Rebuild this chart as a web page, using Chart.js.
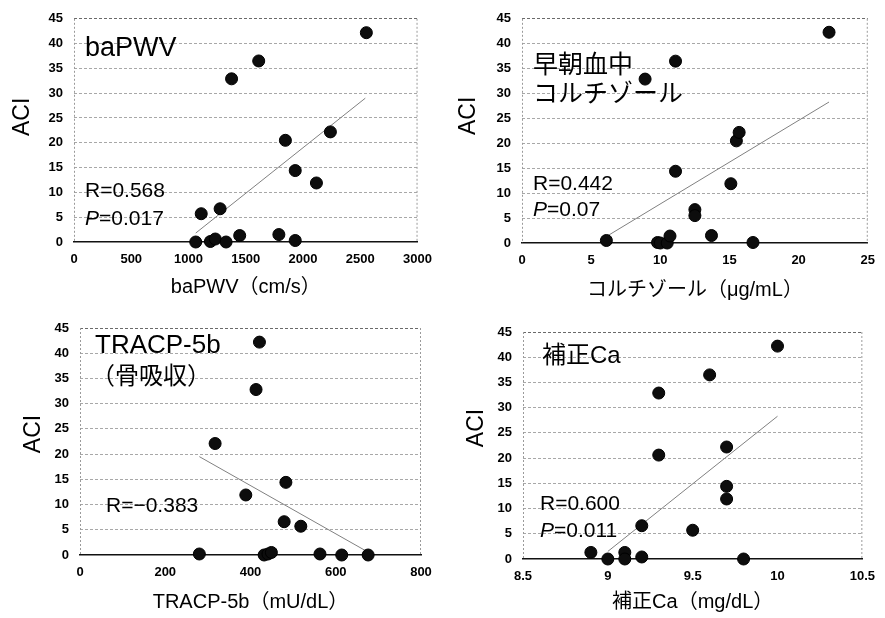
<!DOCTYPE html>
<html lang="ja">
<head>
<meta charset="utf-8">
<title>ACI 相関</title>
<script src="https://cdn.jsdelivr.net/npm/chart.js@4/dist/chart.umd.min.js"></script>
<style>
  html, body { margin: 0; padding: 0; background: #fff; }
  #wrap { position: relative; width: 885px; height: 618px; overflow: hidden; }
  canvas { position: absolute; }
</style>
</head>
<body>
<div id="wrap">
  <canvas id="cPwv" width="442" height="305" style="left:0;top:0"></canvas>
  <canvas id="cCort" width="443" height="305" style="left:442px;top:0"></canvas>
  <canvas id="cTracp" width="442" height="313" style="left:0;top:305px"></canvas>
  <canvas id="cCa" width="443" height="313" style="left:442px;top:305px"></canvas>
</div>
<script>
// === DATA ===
const aciTicks = [0, 5, 10, 15, 20, 25, 30, 35, 40, 45];

// baPWV (cm/s) vs ACI
const pwvX   = [1063, 1111, 1191, 1234, 1276, 1328, 1376, 1447, 1613, 1789, 1846, 1932, 1932, 2117, 2239, 2553];
const pwvAci = [0, 5.7, 0.1, 0.6, 6.7, 0, 32.9, 1.3, 36.5, 1.5, 20.5, 14.4, 0.3, 11.9, 22.2, 42.2];
const pwvTicks = [0, 500, 1000, 1500, 2000, 2500, 3000];
const pwvFitX = [1063, 2544];
const pwvFitY = [1.8, 29.0];

// 早朝血中コルチゾール (μg/mL) vs ACI
const cortX   = [6.1, 8.9, 9.8, 10.0, 10.5, 10.7, 11.1, 11.1, 12.5, 12.5, 13.7, 15.1, 15.5, 15.7, 16.7, 22.2];
const cortAci = [0.5, 32.9, 0.1, 0, 0, 1.4, 36.5, 14.4, 6.7, 5.5, 1.5, 11.9, 20.5, 22.2, 0.1, 42.3];
const cortTicks = [0, 5, 10, 15, 20, 25];
const cortFitX = [6.1, 22.2];
const cortFitY = [1.3, 28.3];

// TRACP-5b (mU/dL) vs ACI
const tracpX   = [280, 317, 389, 413, 421, 432, 441, 449, 479, 483, 518, 563, 614, 676];
const tracpAci = [0.2, 22.1, 11.9, 32.8, 42.2, 0, 0.2, 0.5, 6.6, 14.4, 5.7, 0.2, 0, 0];
const tracpTicks = [0, 200, 400, 600, 800];
const tracpFitX = [280, 669];
const tracpFitY = [19.5, 0.9];

// 補正Ca (mg/dL) vs ACI
const caX   = [8.9, 9.0, 9.1, 9.1, 9.2, 9.2, 9.3, 9.3, 9.5, 9.6, 9.7, 9.7, 9.7, 9.8, 10.0];
const caAci = [1.3, 0, 1.3, 0, 6.6, 0.4, 32.9, 20.6, 5.7, 36.5, 22.2, 14.4, 11.9, 0, 42.2];
const caTicks = [8.5, 9, 9.5, 10, 10.5];
const caFitX = [9.0, 10.0];
const caFitY = [1.5, 28.3];

// === FONTS ===
const LATIN = '"Liberation Sans", Arial, sans-serif';
const JP = '"Liberation Sans", "Noto Sans CJK JP", sans-serif';

function toPoints(xs, ys) {
    return xs.map((x, i) => ({ x: x, y: ys[i] }));
}

// draw one text run list (supports italic "P")
function drawRuns(ctx, runs, x, y, size) {
    let cx = x;
    runs.forEach(r => {
        ctx.font = (r.italic ? 'italic ' : '') + size + 'px ' + JP;
        ctx.fillText(r.t, cx, y);
        cx += ctx.measureText(r.t).width;
    });
}

// === PANEL BUILDER ===
function makePanel(canvasId, p) {
    const canvas = document.getElementById(canvasId);
    const W = canvas.width, H = canvas.height;
    const [L, T, R, B] = p.area;

    const panelText = {
        id: 'panelText',
        // dashed frame on the left and right of the plot
        beforeDatasetsDraw(chart) {
            const { ctx, chartArea: a } = chart;
            ctx.save();
            ctx.strokeStyle = '#9a9a9a';
            ctx.lineWidth = 1;
            ctx.setLineDash([2, 2]);
            ctx.beginPath();
            ctx.moveTo(a.left + 0.5, a.top);
            ctx.lineTo(a.left + 0.5, a.bottom);
            ctx.moveTo(a.right - 0.5, a.top);
            ctx.lineTo(a.right - 0.5, a.bottom);
            ctx.stroke();
            ctx.restore();
        },
        afterDraw(chart) {
            const { ctx, chartArea: a } = chart;
            ctx.save();
            ctx.fillStyle = '#000';
            ctx.textBaseline = 'alphabetic';
            ctx.textAlign = 'left';
            p.labels.forEach(lb => {
                drawRuns(ctx, lb.runs, a.left + lb.dx, a.top + lb.dy, lb.size);
            });
            // ACI axis title
            ctx.translate(a.left + p.yTitle[0], a.top + p.yTitle[1]);
            ctx.rotate(-Math.PI / 2);
            ctx.textAlign = 'center';
            ctx.textBaseline = 'middle';
            ctx.font = '23px ' + LATIN;
            ctx.fillText('ACI', 0, 0);
            ctx.restore();
        }
    };

    return new Chart(canvas, {
        type: 'scatter',
        data: {
            datasets: [{
                data: toPoints(p.x, p.y),
                backgroundColor: '#0d0d0d',
                borderColor: '#000',
                borderWidth: 1,
                pointRadius: 6,
                clip: false
            }, {
                type: 'line',
                data: toPoints(p.fitX, p.fitY),
                borderColor: '#808080',
                borderWidth: 1,
                pointRadius: 0,
                fill: false,
                clip: false
            }]
        },
        options: {
            responsive: false,
            animation: false,
            devicePixelRatio: 1,
            layout: { padding: { left: 0, top: T, right: W - R, bottom: 0 } },
            plugins: { legend: { display: false }, tooltip: { enabled: false } },
            scales: {
                x: {
                    type: 'linear',
                    min: p.xTicks[0],
                    max: p.xTicks[p.xTicks.length - 1],
                    afterBuildTicks: s => { s.ticks = p.xTicks.map(v => ({ value: v })); },
                    afterFit: s => { s.height = H - B; },
                    grid: { display: false, drawTicks: false },
                    border: { display: true, color: '#111', width: 1.4 },
                    ticks: {
                        padding: 10,
                        color: '#000',
                        font: { family: LATIN, size: 13, weight: 'bold' },
                        callback: v => String(v)
                    },
                    title: {
                        display: true,
                        text: p.xTitle,
                        color: '#000',
                        font: { family: JP, size: 20 },
                        padding: { top: 0, bottom: p.xTitlePad }
                    }
                },
                y: {
                    type: 'linear',
                    min: 0,
                    max: 45,
                    afterBuildTicks: s => { s.ticks = aciTicks.map(v => ({ value: v })); },
                    afterFit: s => { s.width = L; },
                    grid: {
                        drawTicks: false,
                        color: c => c.tick && c.tick.value === 0 ? 'rgba(0,0,0,0)'
                            : (c.tick && c.tick.value === 45 ? '#6a6a6a' : '#a8a8a8'),
                        lineWidth: 1
                    },
                    border: { display: false, dash: [3, 2] },
                    ticks: {
                        padding: 11,
                        color: '#000',
                        font: { family: LATIN, size: 13, weight: 'bold' }
                    }
                }
            }
        },
        plugins: [panelText]
    });
}

// === FOUR PANELS ===
makePanel('cPwv', {
    area: [74, 15, 425, 242],
    x: pwvX, y: pwvAci, fitX: pwvFitX, fitY: pwvFitY, xTicks: pwvTicks,
    xTitle: 'baPWV（cm/s）', xTitlePad: 6,
    yTitle: [-51, 98],
    labels: [
        { runs: [{ t: 'baPWV' }], dx: 11, dy: 37, size: 27 },
        { runs: [{ t: 'R=0.568' }], dx: 11, dy: 178, size: 21 },
        { runs: [{ t: 'P', italic: true }, { t: '=0.017' }], dx: 11, dy: 206, size: 21 }
    ]
});

makePanel('cCort', {
    area: [80, 16, 433, 243],
    x: cortX, y: cortAci, fitX: cortFitX, fitY: cortFitY, xTicks: cortTicks,
    xTitle: 'コルチゾール（μg/mL）', xTitlePad: 3,
    yTitle: [-53, 97],
    labels: [
        { runs: [{ t: '早朝血中' }], dx: 11, dy: 54, size: 25 },
        { runs: [{ t: 'コルチゾール' }], dx: 11, dy: 83, size: 25 },
        { runs: [{ t: 'R=0.442' }], dx: 11, dy: 171, size: 21 },
        { runs: [{ t: 'P', italic: true }, { t: '=0.07' }], dx: 11, dy: 197, size: 21 }
    ]
});

makePanel('cTracp', {
    area: [80, 23, 421, 250],
    x: tracpX, y: tracpAci, fitX: tracpFitX, fitY: tracpFitY, xTicks: tracpTicks,
    xTitle: 'TRACP-5b（mU/dL）', xTitlePad: 4,
    yTitle: [-46, 106],
    labels: [
        { runs: [{ t: 'TRACP-5b' }], dx: 15, dy: 25, size: 26 },
        { runs: [{ t: '（骨吸収）' }], dx: 11, dy: 56, size: 24 },
        { runs: [{ t: 'R=−0.383' }], dx: 26, dy: 184, size: 21 }
    ]
});

makePanel('cCa', {
    area: [81, 27, 426, 254],
    x: caX, y: caAci, fitX: caFitX, fitY: caFitY, xTicks: caTicks,
    xTitle: '補正Ca（mg/dL）', xTitlePad: 4,
    yTitle: [-46, 96],
    labels: [
        { runs: [{ t: '補正Ca' }], dx: 19, dy: 31, size: 24 },
        { runs: [{ t: 'R=0.600' }], dx: 17, dy: 178, size: 21 },
        { runs: [{ t: 'P', italic: true }, { t: '=0.011' }], dx: 17, dy: 205, size: 21 }
    ]
});
</script>
</body>
</html>
